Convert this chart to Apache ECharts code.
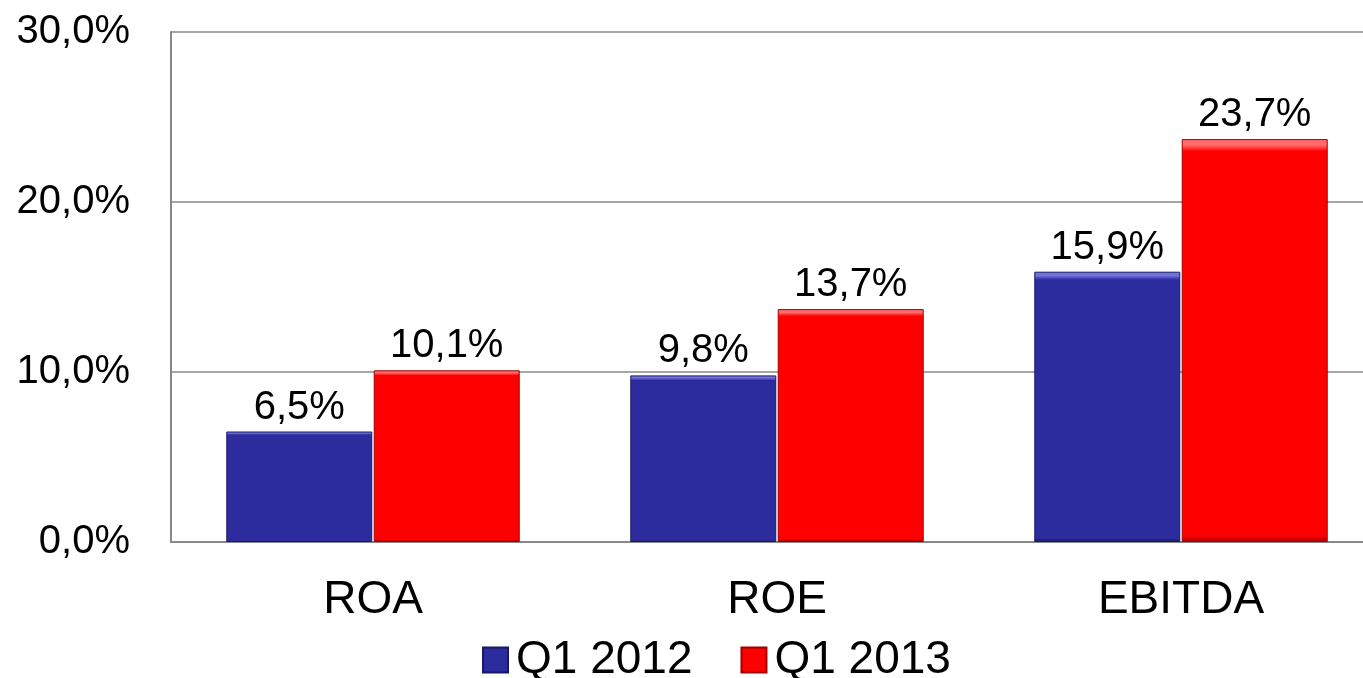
<!DOCTYPE html>
<html><head><meta charset="utf-8">
<script src="https://cdn.jsdelivr.net/npm/echarts@6/dist/echarts.min.js"></script>
<style>html,body{margin:0;padding:0;background:#fff}#c{width:1363px;height:678px}</style>
</head><body><div id="c"></div>
<script>
const categories = ['ROA', 'ROE', 'EBITDA'];
const seriesNames = ['Q1 2012', 'Q1 2013'];
const q1_2012 = [6.5, 9.8, 15.9];
const q1_2013 = [10.1, 13.7, 23.7];
const yTicks = [0, 10, 20, 30];

const fmt = v => v.toFixed(1).replace('.', ',') + '%';
const font = 'Liberation Sans, Arial, sans-serif';

function barStyle(base, light, dark) {
  return {
    color: new echarts.graphic.LinearGradient(0, 0, 0, 1, [
      {offset: 0, color: light}, {offset: 0.015, color: light}, {offset: 0.03, color: base},
      {offset: 0.985, color: base}, {offset: 1, color: dark}
    ]),
    borderColor: dark, borderWidth: 1
  };
}

const chart = echarts.init(document.getElementById('c'));
chart.setOption({
  animation: false,
  textStyle: {fontFamily: font},
  grid: {left: 171, top: 32, width: 1212, height: 510, containLabel: false, outerBoundsMode: 'none'},
  legend: {
    data: seriesNames, top: 632, left: 477, icon: 'rect',
    itemWidth: 25, itemHeight: 25, itemGap: 48,
    textStyle: {fontSize: 46, color: '#000', fontFamily: font, padding: [0, 0, 0, 3]}
  },
  xAxis: {
    type: 'category', data: categories,
    axisLine: {show: true, lineStyle: {color: '#888', width: 2}},
    axisTick: {show: false},
    axisLabel: {fontSize: 46, color: '#000', margin: 35, fontFamily: font}
  },
  yAxis: {
    type: 'value', min: yTicks[0], max: yTicks[yTicks.length - 1], interval: 10,
    axisLine: {show: true, lineStyle: {color: '#888', width: 2}},
    axisTick: {show: false},
    splitLine: {lineStyle: {color: '#888', width: 1.5}},
    axisLabel: {fontSize: 40, color: '#000', margin: 41, fontFamily: font, formatter: v => fmt(v)}
  },
  series: [
    {name: seriesNames[0], type: 'bar', data: q1_2012, barWidth: 146, barGap: '1%',
     itemStyle: barStyle('#2C2C9E', '#7070E0', '#1A1A60'),
     label: {show: true, position: 'top', distance: 4, fontSize: 40, color: '#000', fontFamily: font, formatter: p => fmt(p.value)}},
    {name: seriesNames[1], type: 'bar', data: q1_2013, barWidth: 146,
     itemStyle: barStyle('#FF0000', '#FF6A6A', '#A00000'),
     label: {show: true, position: 'top', distance: 4, fontSize: 40, color: '#000', fontFamily: font, formatter: p => fmt(p.value)}}
  ]
});
</script></body></html>
